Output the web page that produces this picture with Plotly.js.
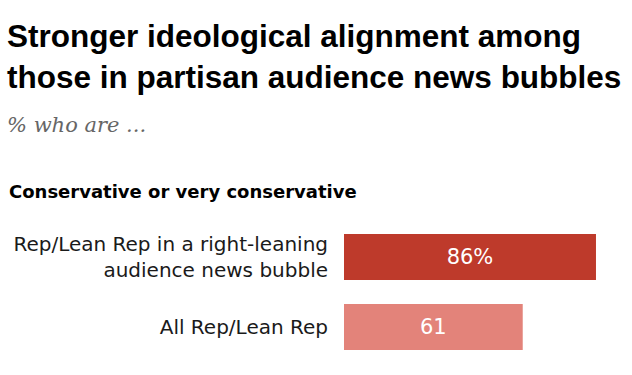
<!DOCTYPE html>
<html>
<head>
<meta charset="utf-8">
<script src="https://cdn.plot.ly/plotly-3.0.1.min.js"></script>
<style>html,body{margin:0;padding:0;background:#fff;}#chart{width:632px;height:375px;}</style>
</head>
<body>
<div id="chart"></div>
<script>
const categories = ["Rep/Lean Rep in a right-leaning<br>audience news bubble", "All Rep/Lean Rep"];
const values = [86, 61];
const valueLabels = ["86%", "61"];
const barColors = ["#BE3A2B", "#E3837A"];
const titleText = "Stronger ideological alignment among<br>those in partisan audience news bubbles";
const subtitleText = "% who are ...";
const groupText = "Conservative or very conservative";

const W = 632, H = 375;
const mL = 344, mR = 0, mT = 222, mB = 13;
const plotW = W - mL - mR, plotH = H - mT - mB;
const px2paperX = px => (px - mL) / plotW;
const px2paperY = py => (H - mB - py) / plotH;

const trace = {
  type: "bar",
  orientation: "h",
  x: values,
  y: categories,
  text: valueLabels,
  texttemplate: "%{text}",
  textposition: "inside",
  insidetextanchor: "middle",
  textangle: 0,
  insidetextfont: {family: "DejaVu Sans", size: 21, color: "#ffffff"},
  marker: {color: barColors},
  hoverinfo: "none",
  cliponaxis: false
};

const layout = {
  width: W, height: H,
  margin: {l: mL, r: mR, t: mT, b: mB, pad: 0},
  paper_bgcolor: "#ffffff",
  plot_bgcolor: "#ffffff",
  showlegend: false,
  bargap: 0.343,
  title: {
    text: titleText,
    font: {family: "Liberation Sans", size: 31.5, weight: 700, color: "#000000"},
    xref: "container", x: 7 / W, xanchor: "left",
    yref: "container", y: 1 - 47 / H, yanchor: "top"
  },
  xaxis: {
    range: [0, plotW / 2.93],
    showgrid: false, zeroline: false, showline: false,
    showticklabels: false, ticks: "", fixedrange: true
  },
  yaxis: {
    type: "category",
    autorange: "reversed",
    showgrid: false, zeroline: false, showline: false,
    ticks: "",
    ticklabelstandoff: 15,
    tickfont: {family: "DejaVu Sans", size: 20, color: "#1a1a1a"},
    fixedrange: true
  },
  annotations: [
    {
      text: subtitleText, showarrow: false,
      xref: "paper", yref: "paper",
      x: px2paperX(5), xanchor: "left",
      y: px2paperY(125), yanchor: "middle",
      font: {family: "DejaVu Serif", size: 21, style: "italic", color: "#666666"}
    },
    {
      text: groupText, showarrow: false,
      xref: "paper", yref: "paper",
      x: px2paperX(7), xanchor: "left",
      y: px2paperY(191), yanchor: "middle",
      font: {family: "DejaVu Sans", size: 18, weight: 700, color: "#000000"}
    }
  ]
};

Plotly.newPlot("chart", [trace], layout, {displayModeBar: false, staticPlot: true});
</script>
</body>
</html>
